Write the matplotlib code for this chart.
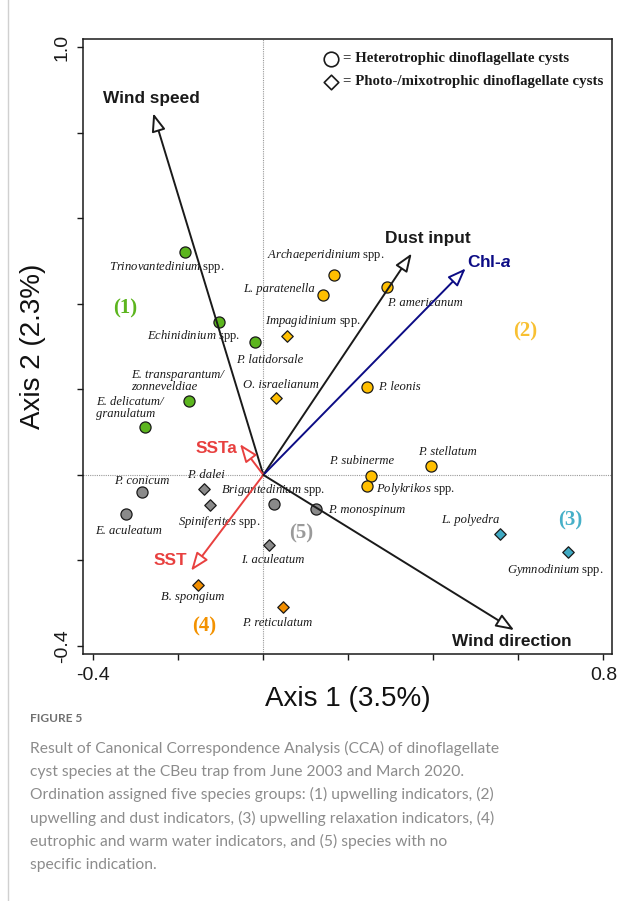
import matplotlib
matplotlib.use("Agg")
import matplotlib.pyplot as plt
from matplotlib.lines import Line2D

plt.rcParams['mathtext.fontset'] = 'custom'
plt.rcParams['mathtext.rm'] = 'Liberation Serif'
plt.rcParams['mathtext.it'] = 'Liberation Serif:italic'
plt.rcParams['mathtext.bf'] = 'Liberation Sans:bold'
plt.rcParams['mathtext.bfit'] = 'Liberation Sans:italic:bold'

# species scores (axis 1, axis 2)
species = ['Trinovantedinium spp.', 'Echinidinium spp.', 'P. latidorsale',
           'E. transparantum/zonneveldiae', 'E. delicatum/granulatum',
           'Archaeperidinium spp.', 'L. paratenella', 'P. americanum',
           'P. leonis', 'P. stellatum', 'P. subinerme', 'Polykrikos spp.',
           'Impagidinium spp.', 'O. israelianum',
           'L. polyedra', 'Gymnodinium spp.',
           'B. spongium', 'P. reticulatum',
           'P. conicum', 'E. aculeatum', 'Brigantedinium spp.', 'P. monospinum',
           'P. dalei', 'Spiniferites spp.', 'I. aculeatum']
ax1 = [-0.184, -0.104, -0.020, -0.174, -0.278,
       0.167, 0.141, 0.290, 0.243, 0.395, 0.253, 0.245,
       0.055, 0.029,
       0.557, 0.717,
       -0.153, 0.046,
       -0.285, -0.324, 0.025, 0.123,
       -0.140, -0.125, 0.013]
ax2 = [0.522, 0.357, 0.310, 0.172, 0.113,
       0.467, 0.421, 0.440, 0.205, 0.021, -0.002, -0.025,
       0.325, 0.180,
       -0.139, -0.180,
       -0.258, -0.310,
       -0.041, -0.092, -0.068, -0.080,
       -0.032, -0.071, -0.163]
group = [1, 1, 1, 1, 1,
         2, 2, 2, 2, 2, 2, 2,
         2, 2,
         3, 3,
         4, 4,
         5, 5, 5, 5,
         5, 5, 5]
# H = heterotrophic (circle), P = photo-/mixotrophic (diamond)
trophic = ['H', 'H', 'H', 'H', 'H',
           'H', 'H', 'H', 'H', 'H', 'H', 'H',
           'P', 'P',
           'P', 'P',
           'P', 'P',
           'H', 'H', 'H', 'H',
           'P', 'P', 'P']

# label text and position for each species
labels = [r'$\mathit{Trinovantedinium}$ spp.', r'$\mathit{Echinidinium}$ spp.',
          'P. latidorsale', 'E. transparantum/\nzonneveldiae', 'E. delicatum/\ngranulatum',
          r'$\mathit{Archaeperidinium}$ spp.', 'L. paratenella', 'P. americanum',
          'P. leonis', 'P. stellatum', 'P. subinerme', r'$\mathit{Polykrikos}$ spp.',
          r'$\mathit{Impagidinium}$ spp.', 'O. israelianum',
          'L. polyedra', r'$\mathit{Gymnodinium}$ spp.',
          'B. spongium', 'P. reticulatum',
          'P. conicum', 'E. aculeatum', r'$\mathit{Brigantedinium}$ spp.', 'P. monospinum',
          'P. dalei', r'$\mathit{Spiniferites}$ spp.', 'I. aculeatum']
lab_x = [-0.227, -0.165, 0.016, -0.311, -0.394,
         0.146, 0.038, 0.379, 0.319, 0.432, 0.231, 0.359,
         0.117, 0.042,
         0.487, 0.686,
         -0.167, 0.033,
         -0.287, -0.318, 0.023, 0.244,
         -0.135, -0.104, 0.023]
lab_y = [0.487, 0.325, 0.269, 0.220, 0.156,
         0.514, 0.434, 0.401, 0.205, 0.054, 0.033, -0.032,
         0.359, 0.210,
         -0.106, -0.223,
         -0.286, -0.346,
         -0.015, -0.131, -0.036, -0.081,
         -0.001, -0.110, -0.199]
lab_ha = ['center', 'center', 'center', 'left', 'left',
          'center', 'center', 'center', 'center', 'center', 'center', 'center',
          'center', 'center',
          'center', 'center',
          'center', 'center',
          'center', 'center', 'center', 'center',
          'center', 'center', 'center']

# environmental vectors
env_names = ['Wind speed', 'Dust input', 'Chl-a', 'SSTa', 'SST', 'Wind direction']
env_x = [-0.259, 0.349, 0.476, -0.055, -0.170, 0.590]
env_y = [0.846, 0.518, 0.483, 0.072, -0.224, -0.363]
env_lx = [-0.263, 0.387, 0.531, -0.111, -0.218, 0.584]
env_ly = [0.881, 0.553, 0.497, 0.061, -0.201, -0.390]
env_col = ['#1a1a1a', '#1a1a1a', '#0c0c85', '#e8403f', '#e8403f', '#1a1a1a']

# group labels
grp_names = ['(1)', '(2)', '(3)', '(4)', '(5)']
grp_x = [-0.325, 0.617, 0.723, -0.140, 0.090]
grp_y = [0.389, 0.335, -0.107, -0.354, -0.137]
grp_fill = {1: '#5cb51e', 2: '#ffbf00', 3: '#3fa9c2', 4: '#f28e00', 5: '#8a8a8a'}
grp_text = {1: '#5cb51e', 2: '#f8c032', 3: '#46b0c8', 4: '#f39200', 5: '#9a9a9a'}

fig = plt.figure(figsize=(6.44, 9.01), dpi=100)
ax = fig.add_axes([0.1294, 0.2741, 0.8214, 0.6823])

ax.axvline(0, color='#999999', lw=0.8, ls=(0, (1, 1)), zorder=0)
ax.axhline(0, color='#999999', lw=0.8, ls=(0, (1, 1)), zorder=0)

for i in range(len(species)):
    mk = 'o' if trophic[i] == 'H' else 'D'
    sz = 64 if mk == 'o' else 34
    ax.scatter(ax1[i], ax2[i], s=sz, marker=mk, c=grp_fill[group[i]],
               edgecolors='#1a1a1a', linewidths=0.9, zorder=3)
    ax.text(lab_x[i], lab_y[i], labels[i], ha=lab_ha[i], va='center',
            fontsize=9.1, family='Liberation Serif',
            style='normal' if '$' in labels[i] else 'italic',
            color='#1a1a1a', linespacing=1.0, zorder=2)

for i in range(len(env_names)):
    ax.annotate('', xy=(env_x[i], env_y[i]), xytext=(0, 0),
                arrowprops=dict(arrowstyle='-|>,head_length=1.1,head_width=0.42',
                                fc='white', ec=env_col[i], lw=1.4,
                                mutation_scale=10, shrinkA=0, shrinkB=0),
                zorder=4)
    name = r'Chl-$\mathbfit{a}$' if env_names[i] == 'Chl-a' else env_names[i]
    ax.text(env_lx[i], env_ly[i], name, ha='center', va='center',
            fontsize=12.4, fontweight='bold', family='Liberation Sans',
            color=env_col[i], zorder=5)

for i in range(len(grp_names)):
    ax.text(grp_x[i], grp_y[i], grp_names[i], ha='center', va='center',
            fontsize=15, fontweight='bold', family='Liberation Serif',
            color=grp_text[i + 1], zorder=2)

# trophic-type key, top right
ax.scatter([0.160], [0.974], s=110, marker='o', facecolors='white',
           edgecolors='#1a1a1a', linewidths=1.2, zorder=3)
ax.scatter([0.160], [0.920], s=55, marker='D', facecolors='white',
           edgecolors='#1a1a1a', linewidths=1.2, zorder=3)
ax.text(0.188, 0.974, '= Heterotrophic dinoflagellate cysts', ha='left', va='center',
        fontsize=10.7, fontweight='bold', family='Liberation Serif', color='#1a1a1a')
ax.text(0.188, 0.920, '= Photo-/mixotrophic dinoflagellate cysts', ha='left', va='center',
        fontsize=10.7, fontweight='bold', family='Liberation Serif', color='#1a1a1a')

ax.set_xlim(-0.4235, 0.821)
ax.set_ylim(-0.419, 1.019)
ax.set_xticks([-0.4, -0.2, 0, 0.2, 0.4, 0.6, 0.8])
ax.set_xticklabels(['-0.4', '', '', '', '', '', '0.8'])
ax.set_yticks([-0.4, -0.2, 0, 0.2, 0.4, 0.6, 0.8, 1.0])
ax.set_yticklabels(['-0.4', '', '', '', '', '', '', '1.0'], rotation=90, va='center')
ax.tick_params(direction='out', length=4, width=1, labelsize=14, color='#1a1a1a',
               labelcolor='#1a1a1a', pad=5)
for lbl in ax.get_xticklabels() + ax.get_yticklabels():
    lbl.set_family('Liberation Sans')
for sp in ax.spines.values():
    sp.set_linewidth(1.1)
    sp.set_color('#1a1a1a')

ax.set_xlabel('Axis 1 (3.5%)', fontsize=20, family='Liberation Sans', color='#111111',
              labelpad=2)
ax.set_ylabel('Axis 2 (2.3%)', fontsize=20, family='Liberation Sans', color='#111111',
              labelpad=6)

# page frame line and caption
fig.add_artist(Line2D([7.5 / 644, 7.5 / 644], [0, 1], transform=fig.transFigure,
                      color='#d0d0d0', lw=1))
fig.text(30.5 / 644, 1 - 718 / 901, 'FIGURE 5', ha='left', va='center',
         fontsize=8.6, family='Lato', fontweight='bold', color='#707070')
caption = ['Result of Canonical Correspondence Analysis (CCA) of dinoflagellate',
           'cyst species at the CBeu trap from June 2003 and March 2020.',
           'Ordination assigned five species groups: (1) upwelling indicators, (2)',
           'upwelling and dust indicators, (3) upwelling relaxation indicators, (4)',
           'eutrophic and warm water indicators, and (5) species with no',
           'specific indication.']
for k, line in enumerate(caption):
    fig.text(30.5 / 644, 1 - (748.3 + 23.3 * k) / 901, line, ha='left', va='center',
             fontsize=11.25, family='Lato', color='#8c8c8c')

fig.savefig('out.png', dpi=100, facecolor='white')
